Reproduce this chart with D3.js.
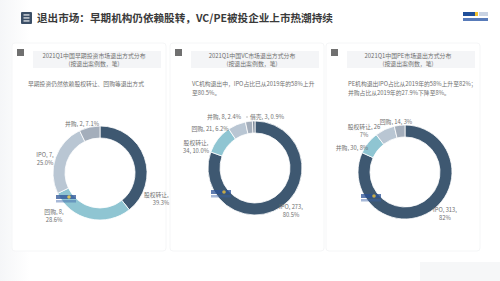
<!DOCTYPE html>
<html><head><meta charset="utf-8">
<script src="https://cdn.jsdelivr.net/npm/d3@7"></script>
<style>
html,body{margin:0;padding:0;background:#fff;}
svg{display:block;font-family:"Noto Sans CJK SC","Noto Sans",sans-serif;}
</style></head>
<body>
<svg id="c" width="500" height="281"></svg>
<script>
// ---- data ----
const mainTitle = "退出市场：早期机构仍依赖股转，VC/PE被投企业上市热潮持续";
const panelTitles = ["2021Q1中国早期投资市场退出方式分布", "2021Q1中国VC市场退出方式分布", "2021Q1中国PE市场退出方式分布"];
const panelUnit = "(按退出案例数，笔)";
const panelNotes = [
  ["早期投资仍然依赖股权转让、回购等退出方式"],
  ["VC机构退出中，IPO占比已从2019年的58%上升", "至80.5%。"],
  ["PE机构退出IPO占比从2019年的58%上升至82%；", "并购占比从2019年的27.9%下降至8%。"]
];
const earlyCats = ["股权转让", "回购", "IPO", "并购"];
const earlyVals = [11, 8, 7, 2];
const earlyPct  = ["39.3%", "28.6%", "25.0%", "7.1%"];
const vcCats = ["IPO", "股权转让", "回购", "并购", "借壳"];
const vcVals = [273, 34, 21, 8, 3];
const vcPct  = ["80.5%", "10.0%", "6.2%", "2.4%", "0.9%"];
const peCats = ["IPO", "并购", "股权转让", "回购"];
const peVals = [313, 30, 26, 14];
const pePct  = ["82%", "8%", "7%", "3%"];
const sliceColors = ["#3e5871", "#8fc5d2", "#b9c6d3", "#a4aebb", "#7f8c9c"];

// ---- layout (positions kept apart from data) ----
const panels = [
  {x: 0,   cx: 100, cy: 173, cats: earlyCats, vals: earlyVals, pct: earlyPct,
   labels: [{dx: 61, dy: 26, br: true}, {dx: -46, dy: 43, br: true}, {dx: -55, dy: -14, br: true}, {dx: -18, dy: -49, br: false}]},
  {x: 158, cx: 255, cy: 168, cats: vcCats, vals: vcVals, pct: vcPct,
   labels: [{dx: 36, dy: 43, br: true}, {dx: -59, dy: -21, br: "pre"}, {dx: -45, dy: -39, br: false}, {dx: -31, dy: -51, br: false}, {dx: 12, dy: -51, br: false, lead: true}]},
  {x: 314, cx: 405, cy: 172, cats: peCats, vals: peVals, pct: pePct,
   labels: [{dx: 40, dy: 42, br: true}, {dx: -53, dy: -24, br: false}, {dx: -41, dy: -41, br: "last"}, {dx: -9, dy: -50, br: false}]}
];

const svg = d3.select("#c");
const textCol = "#707070";

const defs = svg.append("defs");
const g1 = defs.append("linearGradient").attr("id", "lg").attr("x1", 0).attr("x2", 1);
g1.append("stop").attr("offset", 0).attr("stop-color", "#eef0f3");
g1.append("stop").attr("offset", 1).attr("stop-color", "#ffffff");
svg.append("rect").attr("x", 0).attr("y", 0).attr("width", 30).attr("height", 281).attr("fill", "url(#lg)").attr("opacity", 0.6);

// header icon
const ic = svg.append("g").attr("transform", "translate(21,12)");
ic.append("rect").attr("width", 11).attr("height", 12).attr("rx", 1).attr("fill", "#3b4f67");
[3, 6, 9].forEach(y => ic.append("rect").attr("x", 2.5).attr("y", y - 0.6).attr("width", 6).attr("height", 1.1).attr("fill", "#fff"));
svg.append("text").attr("x", 37).attr("y", 22).attr("font-size", 10.6).attr("font-weight", 700)
  .attr("fill", "#3a3a3a").text(mainTitle);

// logo top-right
const lg = svg.append("g").attr("transform", "translate(463,12)");
lg.append("rect").attr("width", 12).attr("height", 4).attr("fill", "#1f4f9a");
lg.append("rect").attr("x", 12).attr("width", 3).attr("height", 4).attr("fill", "#f2c230");
lg.append("rect").attr("x", 16).attr("width", 9).attr("height", 4).attr("fill", "#c9d3e3");
lg.append("rect").attr("y", 6).attr("width", 25).attr("height", 3).attr("fill", "#2e5aa8").attr("opacity", 0.8);

const arc = d3.arc().innerRadius(35).outerRadius(47);
const pie = d3.pie().sort(null).value(d => d);

panels.forEach((p, i) => {
  const g = svg.append("g");
  g.append("rect").attr("x", p.x + 12).attr("y", 43).attr("width", 154).attr("height", 208).attr("rx", 3)
    .attr("fill", "#fff").attr("stroke", "#f5f6f7").attr("stroke-width", 1);
  g.append("rect").attr("x", p.x + 17).attr("y", 49).attr("width", 7).attr("height", 7).attr("fill", "#707070");
  g.append("rect").attr("x", p.x + 33).attr("y", 51).attr("width", 128).attr("height", 17).attr("fill", "#f4f5f7");
  g.append("text").attr("x", p.x + 94).attr("y", 57.5).attr("text-anchor", "middle").attr("font-size", 5.9).attr("fill", textCol).text(panelTitles[i]);
  g.append("text").attr("x", p.x + 94).attr("y", 65.5).attr("text-anchor", "middle").attr("font-size", 5.9).attr("fill", textCol).text(panelUnit);
  panelNotes[i].forEach((t, k) => {
    g.append("text").attr("x", p.x + 28 + (i > 0 ? 6 : 0)).attr("y", 86 + k * 8.5).attr("font-size", 5.8).attr("fill", textCol).text(t);
  });
  const dg = g.append("g").attr("transform", `translate(${p.cx},${p.cy})`);
  dg.selectAll("path").data(pie(p.vals)).join("path")
    .attr("d", arc).attr("fill", (d, k) => sliceColors[k]).attr("stroke", "#fff").attr("stroke-width", 0.8);
  // watermark
  const wm = dg.append("g").attr("transform", "translate(-44,22)").attr("opacity", 0.75);
  wm.append("rect").attr("width", 20).attr("height", 4).attr("fill", "#2b5296");
  wm.append("circle").attr("cx", 13).attr("cy", 2).attr("r", 1.8).attr("fill", "#f3c63a");
  wm.append("rect").attr("y", 5).attr("width", 20).attr("height", 2.5).attr("fill", "#3a62a8").attr("opacity", 0.6);
  p.cats.forEach((c, k) => {
    const L = p.labels[k];
    let lines;
    if (L.br === true) lines = [`${c}, ${p.vals[k]},`, p.pct[k]];
    else if (L.br === "pre") lines = [`${c},`, `${p.vals[k]}, ${p.pct[k]}`];
    else if (L.br === "last") lines = [`${c}, ${p.vals[k]}`, p.pct[k]];
    else lines = [`${c}, ${p.vals[k]}, ${p.pct[k]}`];
    const lh = 8;
    const y0 = L.dy - (lines.length - 1) * lh / 2 + 2;
    lines.forEach((t, j) => {
      dg.append("text").attr("x", L.dx).attr("y", y0 + j * lh).attr("text-anchor", "middle")
        .attr("font-size", 5.8).attr("fill", textCol).text(t);
    });
    if (L.lead) {
      dg.append("line").attr("x1", L.dx - 21).attr("x2", L.dx - 19).attr("y1", L.dy).attr("y2", L.dy)
        .attr("stroke", "#999").attr("stroke-width", 0.6);
    }
  });
});

svg.append("rect").attr("x", 420).attr("y", 262).attr("width", 80).attr("height", 19).attr("fill", "#f2f3f5").attr("opacity", 0.7);
</script>
</body></html>
